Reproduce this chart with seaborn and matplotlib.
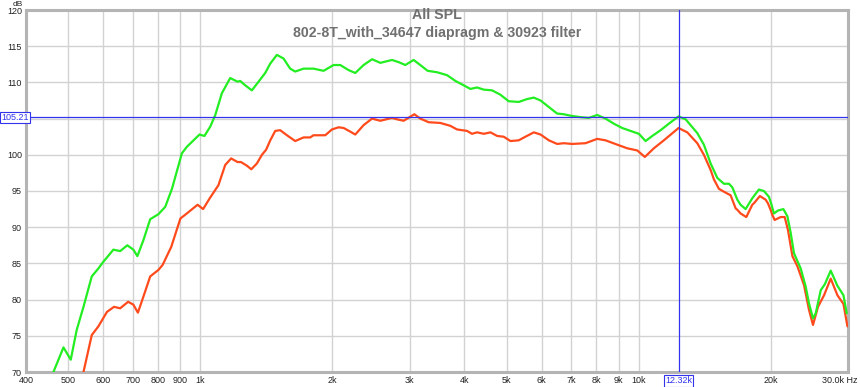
import matplotlib
matplotlib.use("Agg")
import matplotlib.pyplot as plt
import matplotlib.transforms as mtransforms
import seaborn as sns
import pandas as pd
import numpy as np

# ---- data ----
green_freq = [462, 487, 506, 522, 541, 565, 585, 600, 633, 656, 681, 703, 718, 741, 768, 802, 831, 861,
              907, 931, 995, 1021, 1053, 1081, 1119, 1169, 1215, 1232, 1265, 1310, 1357, 1405, 1443, 1494,
              1547, 1602, 1645, 1719, 1811, 1909, 2012, 2084, 2177, 2255, 2356, 2463, 2572, 2735, 2832,
              2933, 3064, 3173, 3298, 3466, 3652, 3816, 3986, 4128, 4276, 4429, 4628, 4833, 5048, 5321,
              5563, 5760, 5968, 6233, 6510, 6743, 6984, 7361, 7689, 8037, 8395, 8769, 9164, 9573, 10000,
              10361, 10730, 11212, 11708, 12320, 12787, 13122, 13593, 14073, 14581, 15103, 15637, 16052,
              16342, 16776, 17065, 17522, 18147, 18787, 19289, 19804, 20053, 20333, 20763, 21366, 21823,
              22204, 22591, 23400, 24020, 24440, 24961, 25320, 25999, 26551, 27397, 28381, 29292, 29801]
green_db = [70.0, 73.4, 71.7, 75.8, 79.0, 83.2, 84.3, 85.2, 86.9, 86.7, 87.5, 86.9, 86.0, 88.2, 91.1, 91.8, 92.8, 95.3,
            100.2, 101.1, 102.8, 102.6, 103.9, 105.5, 108.5, 110.6, 110.1, 110.2, 109.6, 108.9, 110.1, 111.3, 112.6, 113.8,
            113.3, 111.9, 111.5, 111.9, 111.9, 111.6, 112.4, 112.4, 111.7, 111.3, 112.4, 113.2, 112.7, 113.1, 112.8,
            112.4, 113.1, 112.4, 111.6, 111.4, 111.0, 110.2, 109.6, 109.1, 109.3, 109.0, 108.9, 108.3, 107.4, 107.3,
            107.7, 107.9, 107.5, 106.6, 105.7, 105.6, 105.4, 105.2, 105.1, 105.5, 105.0, 104.3, 103.7, 103.3, 102.9,
            101.9, 102.6, 103.4, 104.3, 105.3, 104.9, 104.1, 103.0, 101.4, 98.8, 96.8, 96.0, 96.0,
            95.5, 93.8, 93.1, 92.5, 94.0, 95.2, 95.0, 94.2, 93.2, 91.9, 92.3, 92.5, 91.5,
            89.2, 86.4, 84.3, 81.8, 79.5, 77.4, 78.1, 81.3, 82.1, 84.0, 81.9, 80.6, 78.1]

red_freq = [541, 565, 585, 612, 635, 656, 684, 703, 720, 741, 768, 802, 820, 858, 900, 931, 985, 1014, 1050, 1099,
            1139, 1175, 1215, 1237, 1276, 1306, 1345, 1381, 1412, 1443, 1481, 1520, 1575, 1645, 1719, 1780, 1811,
            1876, 1926, 1995, 2066, 2122, 2197, 2255, 2356, 2463, 2572, 2735, 2808, 2907, 3076, 3173, 3316, 3525,
            3716, 3849, 4057, 4163, 4276, 4429, 4588, 4752, 4917, 5096, 5321, 5513, 5760, 5968, 6233, 6510, 6743,
            7047, 7555, 8037, 8395, 8928, 9409, 9919, 10321, 10822, 11405, 12320, 12899, 13593, 14073, 14581, 14835,
            15229, 15637, 16196, 16628, 16776, 17065, 17585, 18147, 18301, 18887, 19463, 19700, 19980, 20160, 20407,
            21060, 21513, 21889, 22404, 23000, 23812, 24440, 24961, 25625, 26453, 27397, 28381, 29292, 29912]
red_db = [70.0, 75.1, 76.3, 78.3, 79.0, 78.8, 79.7, 79.3, 78.2, 80.4, 83.2, 84.1, 84.8, 87.3, 91.2, 91.9, 93.1, 92.5, 94.0, 95.8,
          98.6, 99.5, 99.0, 99.0, 98.5, 98.0, 98.8, 100.0, 100.7, 102.0, 103.3, 103.4, 102.7, 101.9, 102.4, 102.4, 102.7,
          102.7, 102.7, 103.5, 103.8, 103.7, 103.2, 102.8, 104.1, 105.0, 104.7, 105.1, 104.9, 104.7, 105.6, 105.0, 104.5, 104.4,
          104.0, 103.5, 103.3, 102.9, 103.1, 102.9, 103.1, 102.6, 102.5, 101.9, 102.0, 102.5, 103.1, 102.8, 102.0, 101.5, 101.6,
          101.5, 101.6, 102.2, 102.0, 101.4, 100.9, 100.6, 99.7, 100.9, 102.0, 103.7, 103.1, 101.6, 100.0, 97.9, 96.6,
          95.3, 94.9, 94.4, 92.6, 92.4, 91.9, 91.4, 93.1, 93.3, 94.3, 93.8, 93.3, 92.4, 91.7, 91.0,
          91.4, 91.4, 89.6, 86.0, 84.6, 82.0, 78.6, 76.5, 79.0, 80.6, 82.9, 80.6, 79.4, 76.3]

x_ticks = [400, 500, 600, 700, 800, 900, 1000, 2000, 3000, 4000, 5000, 6000, 7000, 8000, 9000, 10000, 20000, 30000]
x_labels = ["400", "500", "600", "700", "800", "900", "1k", "2k", "3k", "4k", "5k", "6k", "7k", "8k", "9k", "10k", "20k", "30.0k Hz"]
y_ticks = [70, 75, 80, 85, 90, 95, 100, 105, 110, 115, 120]
y_labels = ["70", "75", "80", "85", "90", "95", "100", "", "110", "115", "120"]  # 105 hidden under cursor box
cursor_freq = 12320
cursor_db = 105.21
title_lines = ["All SPL", "802-8T_with_34647 diapragm & 30923 filter"]

# ---- plot ----
sns.set_style("white")
plt.rcParams['font.family'] = ['Liberation Sans', 'DejaVu Sans']

fig = plt.figure(figsize=(8.6, 3.87), dpi=100)
ax = fig.add_axes([26/860, 1 - 372/387, 822/860, 362/387])

df_g = pd.DataFrame({"freq": green_freq, "db": green_db})
df_r = pd.DataFrame({"freq": red_freq, "db": red_db})

ax.set_xscale("log")
ax.set_xlim(400, 30000)
ax.set_ylim(70, 120)

# grid
for f in [400, 500, 600, 700, 800, 900, 1000, 2000, 3000, 4000, 5000, 6000, 7000, 8000, 9000, 10000, 20000]:
    ax.axvline(f, color="#d2d2d2", lw=1.0, zorder=0)
for y in y_ticks:
    ax.axhline(y, color="#d2d2d2", lw=1.0, zorder=0)

sns.lineplot(data=df_r, x="freq", y="db", ax=ax, color="#ff4a1c", lw=1.6, sort=False, zorder=3)
sns.lineplot(data=df_g, x="freq", y="db", ax=ax, color="#22ee22", lw=1.6, sort=False, zorder=4)

# cursor
ax.axhline(cursor_db, color="#3333ee", lw=0.9, zorder=5)
ax.axvline(cursor_freq, color="#3333ee", lw=0.9, zorder=5)

ax.set_xticks(x_ticks)
ax.set_xticklabels(x_labels)
ax.xaxis.set_minor_locator(matplotlib.ticker.NullLocator())
ax.set_yticks(y_ticks)
ax.set_yticklabels(y_labels)
ax.tick_params(axis="both", length=0, labelsize=6.5, colors="#222222", pad=3)
ax.set_xlabel("")
ax.set_ylabel("")

for sp in ax.spines.values():
    sp.set_visible(True)
    sp.set_color("#b4b4b4")
    sp.set_linewidth(2.2)

# last x label: right aligned to the figure edge
lbls = ax.get_xticklabels()
last = lbls[-1]
last.set_horizontalalignment("right")
last.set_transform(last.get_transform() + mtransforms.ScaledTranslation(10/100, 0, fig.dpi_scale_trans))

fig.text(13/860, 1 - 1/387, "dB", ha="left", va="top", fontsize=6, color="#222222")

# cursor value boxes
fig.text(1.5/860, 1 - 117.5/387, f"{cursor_db:.2f}", ha="left", va="center",
         fontsize=6.5, color="#3333ee",
         bbox=dict(boxstyle="square,pad=0.12", fc="white", ec="#3333ee", lw=0.8), zorder=10)
ax.text(cursor_freq, -0.012, "12.32k", transform=ax.get_xaxis_transform(), ha="center", va="top",
        fontsize=6.5, color="#3333ee",
        bbox=dict(boxstyle="square,pad=0.15", fc="white", ec="#3333ee", lw=0.8), zorder=10, clip_on=False)

# titles
ax.text(0.5, 1 - 5/362, title_lines[0], transform=ax.transAxes, ha="center", va="center", fontsize=10.2,
        color="#707070", fontweight="bold")
ax.text(0.5, 1 - 23/362, title_lines[1], transform=ax.transAxes, ha="center", va="center", fontsize=10.2,
        color="#707070", fontweight="bold")

fig.savefig("out.png", dpi=100, facecolor="white")
